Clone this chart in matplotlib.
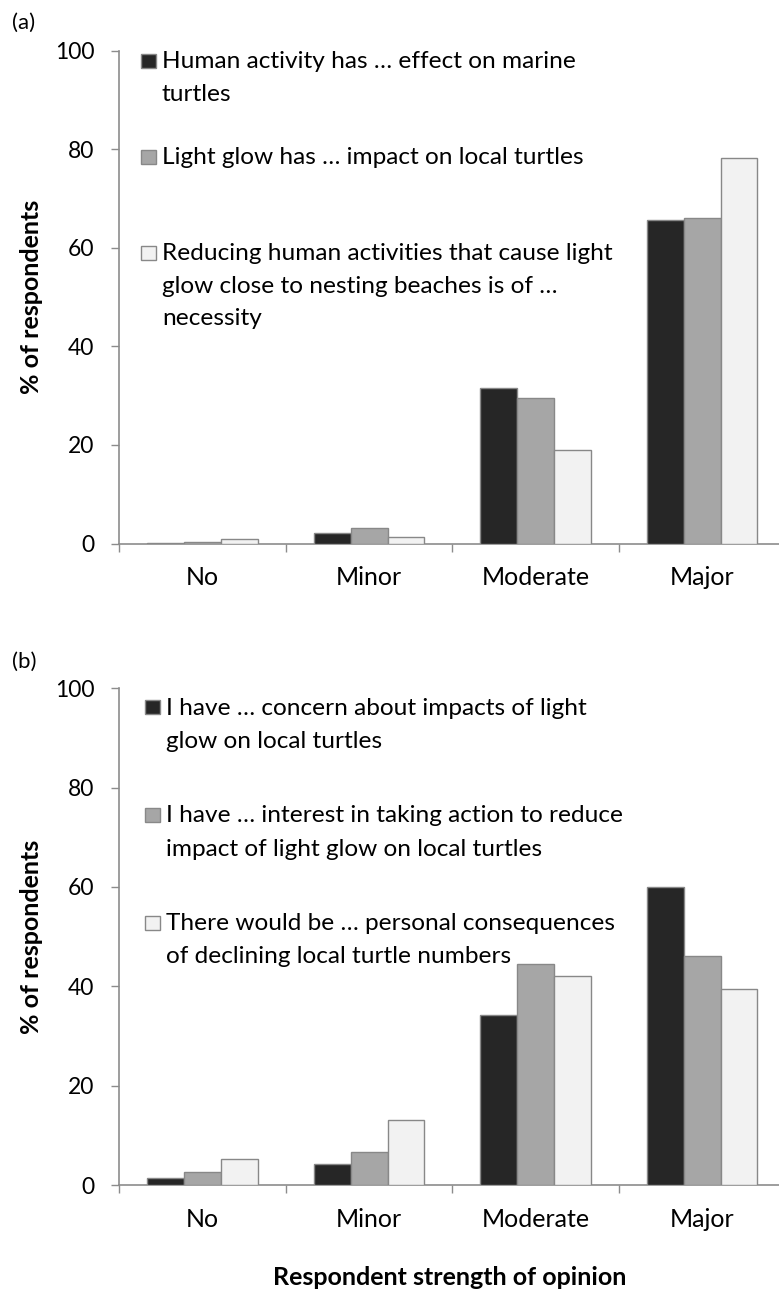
import matplotlib
matplotlib.use('Agg')
import matplotlib.pyplot as plt
import numpy as np
from matplotlib.patches import Rectangle

plt.rcParams['font.family'] = ['Lato', 'DejaVu Sans']

categories = ['No', 'Minor', 'Moderate', 'Major']

# (a) perceived impact of human activity / light glow
human_activity_effect = [0.2, 2.2, 31.5, 65.6]
light_glow_impact = [0.35, 3.2, 29.6, 66.1]
reducing_light_necessity = [1.0, 1.3, 19.0, 78.2]

# (b) concern, interest and personal consequences
concern_light_glow = [1.35, 4.2, 34.3, 59.9]
interest_in_action = [2.6, 6.6, 44.4, 46.2]
personal_consequences = [5.2, 13.1, 42.1, 39.4]

legend_a = [
    ['Human activity has \u2026 effect on marine', 'turtles'],
    ['Light glow has \u2026 impact on local turtles'],
    ['Reducing human activities that cause light',
     'glow close to nesting beaches is of \u2026', 'necessity'],
]
legend_b = [
    ['I have \u2026 concern about impacts of light', 'glow on local turtles'],
    ['I have \u2026 interest in taking action to reduce',
     'impact of light glow on local turtles'],
    ['There would be \u2026 personal consequences',
     'of declining local turtle numbers'],
]

colors = ['#262626', '#a6a6a6', '#f2f2f2']
edge = '#888888'
axis_grey = '#8c8c8c'
FS = 18
LEG_FS = 17.6

W, H = 779, 1292
fig = plt.figure(figsize=(W / 100, H / 100), dpi=100)


def fx(px):
    return px / W


def fy(py):
    return 1 - py / H


def draw_panel(rect, series, legend, tag, tag_y, leg_x, leg_y0, leg_step, line_step):
    ax = fig.add_axes(rect)
    x = np.arange(len(categories))
    width = 0.222
    for i, vals in enumerate(series):
        ax.bar(x + (i - 1) * width, vals, width, color=colors[i],
               edgecolor=edge, linewidth=1.0, zorder=3)

    ax.set_xlim(-0.5, 3.5)
    ax.set_ylim(0, 100)
    ax.set_yticks(np.arange(0, 101, 20))
    ax.set_xticks(x)
    ax.set_xticklabels(categories, fontsize=FS)
    ax.set_xticks(np.arange(-0.5, 4.0, 1.0), minor=True)
    ax.tick_params(axis='x', which='major', length=0, pad=16.5)
    ax.tick_params(axis='x', which='minor', length=5.8, color=axis_grey, width=1)
    ax.tick_params(axis='y', length=5.8, color=axis_grey, width=1,
                   labelsize=16.5, pad=12)
    for s in ['top', 'right']:
        ax.spines[s].set_visible(False)
    for s in ['left', 'bottom']:
        ax.spines[s].set_color(axis_grey)
        ax.spines[s].set_linewidth(1.2)
    ax.set_ylabel('% of respondents', fontsize=FS, fontweight='bold')
    ax.yaxis.set_label_coords(-0.1146, 0.5)

    fig.text(fx(12), fy(tag_y), tag, fontsize=16, va='center', ha='left')

    # legend drawn as fixed-pitch entries
    for i, lines in enumerate(legend):
        base = leg_y0 + i * leg_step
        fig.patches.append(Rectangle((fx(leg_x - 21), fy(base - 0.5)),
                                     15 / W, 14 / H, transform=fig.transFigure,
                                     facecolor=colors[i], edgecolor=edge,
                                     linewidth=1.0))
        for j, line in enumerate(lines):
            fig.text(fx(leg_x), fy(base + j * line_step), line,
                     fontsize=LEG_FS, va='baseline', ha='left')
    return ax


ax_a = draw_panel([fx(119.3), fy(543.5), 666 / W, 492.8 / H],
                  [human_activity_effect, light_glow_impact, reducing_light_necessity],
                  legend_a, '(a)', 23, 162, 68.3, 96, 32.4)
ax_b = draw_panel([fx(119.3), fy(1185), 666 / W, 496.7 / H],
                  [concern_light_glow, interest_in_action, personal_consequences],
                  legend_b, '(b)', 662, 166, 715, 107.5, 33)
fig.text(fx(450), fy(1285), 'Respondent strength of opinion', fontsize=FS,
         fontweight='bold', ha='center', va='baseline')

fig.savefig('out.png', dpi=100)
plt.close(fig)
